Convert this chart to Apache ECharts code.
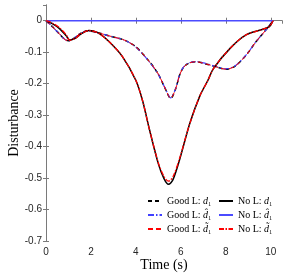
<!DOCTYPE html>
<html><head><meta charset="utf-8">
<script src="https://cdn.jsdelivr.net/npm/echarts@6/dist/echarts.min.js"></script>
<style>html,body{margin:0;padding:0;background:#fff}#c{width:290px;height:274px}</style>
</head><body><div id="c"></div>
<script>
// axis ticks
const xTicks = [0, 2, 4, 6, 8, 10];
const yTicks = [0, -0.1, -0.2, -0.3, -0.4, -0.5, -0.6, -0.7];

// Good L curves
const goodT = [0, 0.3, 0.6, 0.85, 1.0, 1.2, 1.5, 1.85, 2.2, 2.8, 3.5, 4.0, 4.6, 5.0, 5.3, 5.55, 5.75, 5.95, 6.1, 6.3, 6.65, 7.0, 7.5, 8.0, 8.4, 8.9, 9.35, 9.8, 10.1];
const goodD1 = [0, -0.02, -0.042, -0.06, -0.064, -0.058, -0.042, -0.032, -0.036, -0.048, -0.062, -0.083, -0.13, -0.17, -0.215, -0.247, -0.22, -0.172, -0.15, -0.137, -0.13, -0.135, -0.145, -0.154, -0.145, -0.11, -0.066, -0.028, 0];
const goodHat = [0, -0.02, -0.042, -0.06, -0.064, -0.058, -0.042, -0.032, -0.036, -0.048, -0.062, -0.084, -0.131, -0.171, -0.214, -0.245, -0.219, -0.171, -0.149, -0.136, -0.13, -0.134, -0.144, -0.153, -0.144, -0.109, -0.066, -0.028, 0];
const goodTilde = [0, -0.02, -0.042, -0.06, -0.064, -0.058, -0.042, -0.032, -0.036, -0.048, -0.062, -0.083, -0.13, -0.17, -0.215, -0.246, -0.22, -0.172, -0.15, -0.137, -0.13, -0.135, -0.145, -0.154, -0.145, -0.11, -0.066, -0.028, 0];

// No L curves
const noT = [0, 0.3, 0.6, 0.9, 1.05, 1.3, 1.6, 1.9, 2.3, 2.8, 3.4, 4.0, 4.3, 4.6, 5.0, 5.25, 5.45, 5.65, 5.95, 6.4, 6.85, 7.2, 7.45, 8.2, 8.9, 9.65, 9.95, 10.1];
const noD1 = [0, -0.01, -0.025, -0.048, -0.061, -0.056, -0.04, -0.031, -0.038, -0.066, -0.114, -0.19, -0.255, -0.345, -0.455, -0.502, -0.52, -0.505, -0.44, -0.326, -0.238, -0.19, -0.152, -0.087, -0.045, -0.027, -0.018, 0];
const noTilde = [0, -0.008, -0.022, -0.045, -0.062, -0.056, -0.04, -0.031, -0.038, -0.066, -0.114, -0.19, -0.255, -0.345, -0.452, -0.495, -0.51, -0.496, -0.436, -0.326, -0.238, -0.19, -0.152, -0.087, -0.045, -0.027, -0.018, 0];
const noHatT = [0, 10.1];
const noHat = [0, 0];

const seriesNames = ['Good L: d1', 'Good L: dhat1', 'Good L: dtilde1', 'No L: d1', 'No L: dhat1', 'No L: dtilde1'];
const legendRich = {
  'Good L: d1': '{a|Good L: }{i|d}{a|\u2081}',
  'Good L: dhat1': '{a|Good L: }{i|d\u0302}{a|\u2081}',
  'Good L: dtilde1': '{a|Good L: }{i|d\u0303}{a|\u2081}',
  'No L: d1': '{a|No L: }{i|d}{a|\u2081}',
  'No L: dhat1': '{a|No L: }{i|d\u0302}{a|\u2081}',
  'No L: dtilde1': '{a|No L: }{i|d\u0303}{a|\u2081}'
};

const pairs = (t, v) => t.map((x, i) => [x, v[i]]);
const chart = echarts.init(document.getElementById('c'));
const axisCol = '#7a7a7a';
const tickFont = {fontFamily: 'Liberation Sans', fontSize: 10, color: '#262626'};
const legendCommon = {
  orient: 'vertical', itemWidth: 14, itemHeight: 9, itemGap: 4, padding: 0,
  itemStyle: {opacity: 0, borderWidth: 0},
  formatter: n => legendRich[n],
  textStyle: {
    rich: {
      a: {fontFamily: 'Liberation Serif', fontSize: 10, color: '#000', lineHeight: 9},
      i: {fontFamily: 'Liberation Serif', fontStyle: 'italic', fontSize: 10, color: '#000', lineHeight: 9}
    }
  }
};
function line(name, t, v, color, width, type) {
  return {
    name, type: 'line', data: pairs(t, v), smooth: 0.3, symbol: 'none', animation: false,
    lineStyle: {color, width, type}, itemStyle: {color}, z: 2
  };
}
chart.setOption({
  animation: false,
  grid: {left: 46, right: 8, top: 5, bottom: 33, containLabel: false, outerBoundsMode: 'none'},
  xAxis: [{
    type: 'value', min: 0, max: 10.5, interval: 2,
    name: 'Time (s)', nameLocation: 'middle', nameGap: 17, nameMoveOverlap: false,
    nameTextStyle: {fontFamily: 'Liberation Serif', fontSize: 14, color: '#000'},
    axisLine: {show: true, lineStyle: {color: axisCol, width: 1}},
    axisTick: {show: true, inside: true, length: 3, lineStyle: {color: axisCol}},
    axisLabel: {...tickFont, margin: 6, showMaxLabel: false, formatter: v => xTicks.includes(v) ? String(v) : ''},
    splitLine: {show: false}
  }, {
    type: 'value', min: 0, max: 10.5, interval: 2, position: 'top',
    axisLine: {show: true, lineStyle: {color: axisCol, width: 1}},
    axisTick: {show: true, inside: true, length: 3, lineStyle: {color: axisCol}},
    axisLabel: {show: false}, splitLine: {show: false}
  }],
  yAxis: [{
    type: 'value', min: -0.7, max: 0.05, interval: 0.1,
    name: 'Disturbance', nameLocation: 'middle', nameGap: 25, nameMoveOverlap: false,
    nameTextStyle: {fontFamily: 'Liberation Serif', fontSize: 14, color: '#000'},
    axisLine: {show: true, lineStyle: {color: axisCol, width: 1}},
    axisTick: {show: true, inside: true, length: 3, lineStyle: {color: axisCol}},
    axisLabel: {...tickFont, margin: 4, showMaxLabel: false,
      formatter: v => { const r = Math.round(v * 10) / 10; return yTicks.includes(r) && Math.abs(v - r) < 1e-6 ? (r === 0 ? '0' : r.toFixed(1)) : ''; }},
    splitLine: {show: false}
  }, {
    type: 'value', min: -0.7, max: 0.05, interval: 0.1, position: 'right',
    axisLine: {show: true, lineStyle: {color: axisCol, width: 1}},
    axisTick: {show: true, inside: true, length: 3, lineStyle: {color: axisCol}},
    axisLabel: {show: false}, splitLine: {show: false}
  }],
  legend: [
    {...legendCommon, left: 147, top: 196, data: seriesNames.slice(0, 3)},
    {...legendCommon, left: 218, top: 196, data: seriesNames.slice(3, 6)}
  ],
  series: [
    line(seriesNames[0], goodT, goodD1, '#000000', 1.5, [4, 3]),
    line(seriesNames[1], goodT, goodHat, '#4040ff', 1.2, [6, 2, 1.5, 2]),
    line(seriesNames[2], goodT, goodTilde, '#ff0000', 1.0, [5, 3]),
    line(seriesNames[3], noT, noD1, '#000000', 1.5, 'solid'),
    line(seriesNames[4], noHatT, noHat, '#4b4bff', 1.5, 'solid'),
    line(seriesNames[5], noT, noTilde, '#ff0000', 1.3, [5, 1.5, 1.5, 1.5])
  ]
});
</script>
</body></html>
